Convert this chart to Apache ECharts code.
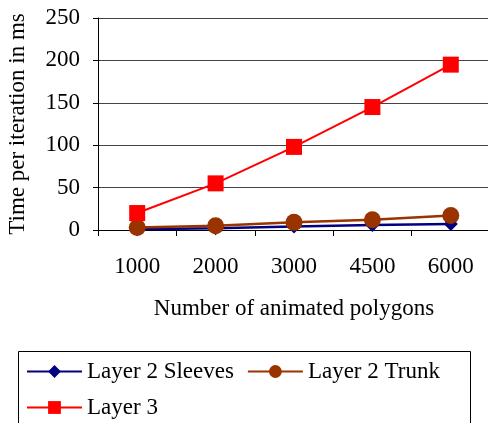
<!DOCTYPE html>
<html><head><meta charset="utf-8">
<script src="https://cdn.jsdelivr.net/npm/echarts@6/dist/echarts.min.js"></script>
<style>html,body{margin:0;padding:0;background:#fff}#c{width:488px;height:423px}</style>
</head><body><div id="c"></div>
<script>
const categories = ['1000','2000','3000','4500','6000'];
const sleeves = [1, 2, 4, 6, 7];
const trunk = [3, 5, 9, 12, 17];
const layer3 = [20, 55, 98, 145, 195];
const yTicks = {min:0, max:250, interval:50};
const font = '"Liberation Serif", "Times New Roman", serif';
const fs = 23;
const chart = echarts.init(document.getElementById('c'));
chart.setOption({
  animation:false,
  textStyle:{fontFamily:font},
  grid:{left:98, right:-2, top:18, bottom:193, outerBoundsMode:'none', containLabel:false},
  xAxis:{type:'category', data:categories, boundaryGap:true,
    name:'Number of animated polygons', nameLocation:'middle', nameGap:67,
    nameTextStyle:{fontFamily:font, fontSize:fs, color:'#000'},
    axisLine:{lineStyle:{color:'#000', width:1}},
    axisTick:{show:true, length:6, inside:false, lineStyle:{color:'#000'}},
    axisLabel:{fontFamily:font, fontSize:fs, color:'#000', margin:25}},
  yAxis:{type:'value', min:yTicks.min, max:yTicks.max, interval:yTicks.interval,
    name:'Time per iteration in ms', nameLocation:'middle', nameGap:69,
    nameTextStyle:{fontFamily:font, fontSize:fs, color:'#000'},
    axisLine:{show:true, lineStyle:{color:'#000', width:1}},
    axisTick:{show:true, length:5, lineStyle:{color:'#000'}},
    splitLine:{lineStyle:{color:'#444', width:1}},
    axisLabel:{fontFamily:font, fontSize:fs, color:'#000', margin:18}},
  legend:{left:21, top:355, width:445, itemWidth:55, itemHeight:16, itemGap:13,
    textStyle:{fontFamily:font, fontSize:fs, color:'#000'},
    data:['Layer 2 Sleeves','Layer 2 Trunk','Layer 3']},
  graphic:[{type:'rect', shape:{x:18.5, y:351.5, width:452, height:80}, style:{fill:'none', stroke:'#000', lineWidth:1}}],
  series:[
    {name:'Layer 2 Sleeves', type:'line', data:sleeves, symbol:'diamond', symbolSize:14,
      color:'#000080', lineStyle:{width:2.5, color:'#000080'}, itemStyle:{color:'#000080'}, z:2},
    {name:'Layer 2 Trunk', type:'line', data:trunk, symbol:'circle', symbolSize:17,
      color:'#993300', lineStyle:{width:2.5, color:'#993300'}, itemStyle:{color:'#993300'}, z:3},
    {name:'Layer 3', type:'line', data:layer3, symbol:'rect', symbolSize:16,
      color:'#ff0000', lineStyle:{width:2, color:'#ff0000'}, itemStyle:{color:'#ff0000'}, z:4}
  ]
});
</script></body></html>
